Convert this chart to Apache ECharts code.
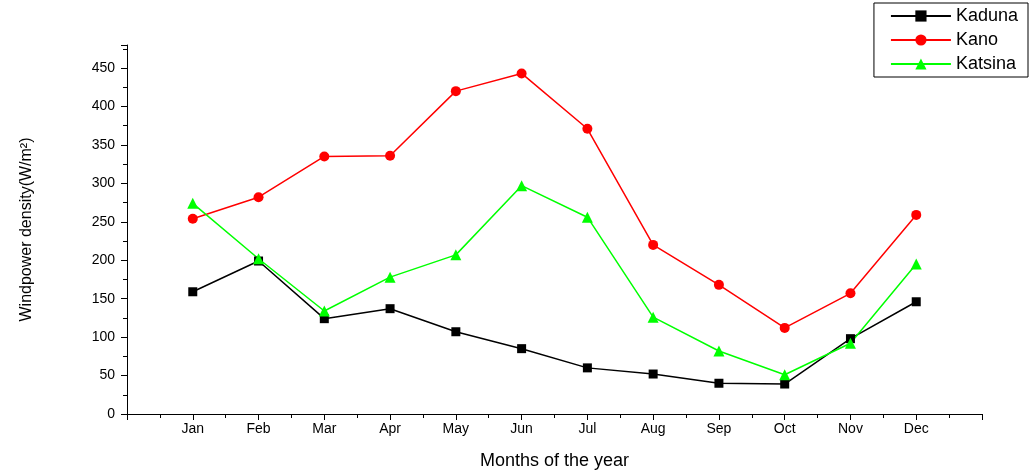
<!DOCTYPE html>
<html><head><meta charset="utf-8">
<script src="https://cdn.jsdelivr.net/npm/echarts@6/dist/echarts.min.js"></script>
<style>html,body{margin:0;background:#fff}#c{width:1032px;height:475px}</style>
</head><body><div id="c"></div>
<script>
var months = ['Jan','Feb','Mar','Apr','May','Jun','Jul','Aug','Sep','Oct','Nov','Dec'];
var kaduna = [159,199,124,137,107,85,60,52,40,39,98,146];
var kano = [254,282,335,336,420,443,371,220,168,112,157,259];
var katsina = [274,202,134,178,207,297,256,126,82,51,92,195];

function pts(arr){ return arr.map(function(v,i){ return [i+1,v]; }); }

var myChart = echarts.init(document.getElementById('c'));
var font = 'Liberation Sans';
myChart.setOption({
    animation: false,
    grid: {left: 127, right: 50, top: 45, bottom: 60},
    legend: {
        right: 4, top: 3, orient: 'vertical', itemGap: 6,
        itemWidth: 60, itemHeight: 14,
        backgroundColor: '#fff', borderColor: '#000', borderWidth: 1,
        padding: [4, 10, 4, 16],
        textStyle: {fontFamily: font, fontSize: 18, color: '#000'},
        data: ['Kaduna','Kano','Katsina']
    },
    xAxis: {
        type: 'value', min: 0, max: 13, interval: 1,
        name: 'Months of the year', nameLocation: 'middle', nameGap: 38,
        nameTextStyle: {fontFamily: font, fontSize: 18, color: '#000'},
        axisLine: {lineStyle: {color: '#000'}},
        axisTick: {inside: false, length: 6, lineStyle: {color: '#000'}},
        minorTick: {show: true, splitNumber: 2, length: 4, lineStyle: {color: '#000'}},
        splitLine: {show: false},
        axisLabel: {fontFamily: font, fontSize: 14, color: '#000',
            formatter: function(v){ return (v>=1 && v<=12) ? months[v-1] : ''; }}
    },
    yAxis: {
        type: 'value', min: 0, max: 480, interval: 50,
        name: 'Windpower density(W/m²)', nameLocation: 'middle', nameGap: 92,
        nameTextStyle: {fontFamily: font, fontSize: 16, color: '#000'},
        axisLine: {show: true, lineStyle: {color: '#000'}},
        axisTick: {show: true, length: 6, lineStyle: {color: '#000'}},
        minorTick: {show: true, splitNumber: 2, length: 4, lineStyle: {color: '#000'}},
        splitLine: {show: false},
        axisLabel: {fontFamily: font, fontSize: 14, color: '#000', margin: 12,
            formatter: function(v){ return v <= 450 ? v : ''; }}
    },
    series: [
        {name: 'Kaduna', type: 'line', data: pts(kaduna), symbol: 'rect', symbolSize: 9,
         itemStyle: {color: '#000'}, lineStyle: {color: '#000', width: 1.5}},
        {name: 'Kano', type: 'line', data: pts(kano), symbol: 'circle', symbolSize: 10,
         itemStyle: {color: '#ff0000'}, lineStyle: {color: '#ff0000', width: 1.5}},
        {name: 'Katsina', type: 'line', data: pts(katsina), symbol: 'triangle', symbolSize: 11,
         itemStyle: {color: '#00ff00'}, lineStyle: {color: '#00ff00', width: 1.5}}
    ]
});
</script></body></html>
